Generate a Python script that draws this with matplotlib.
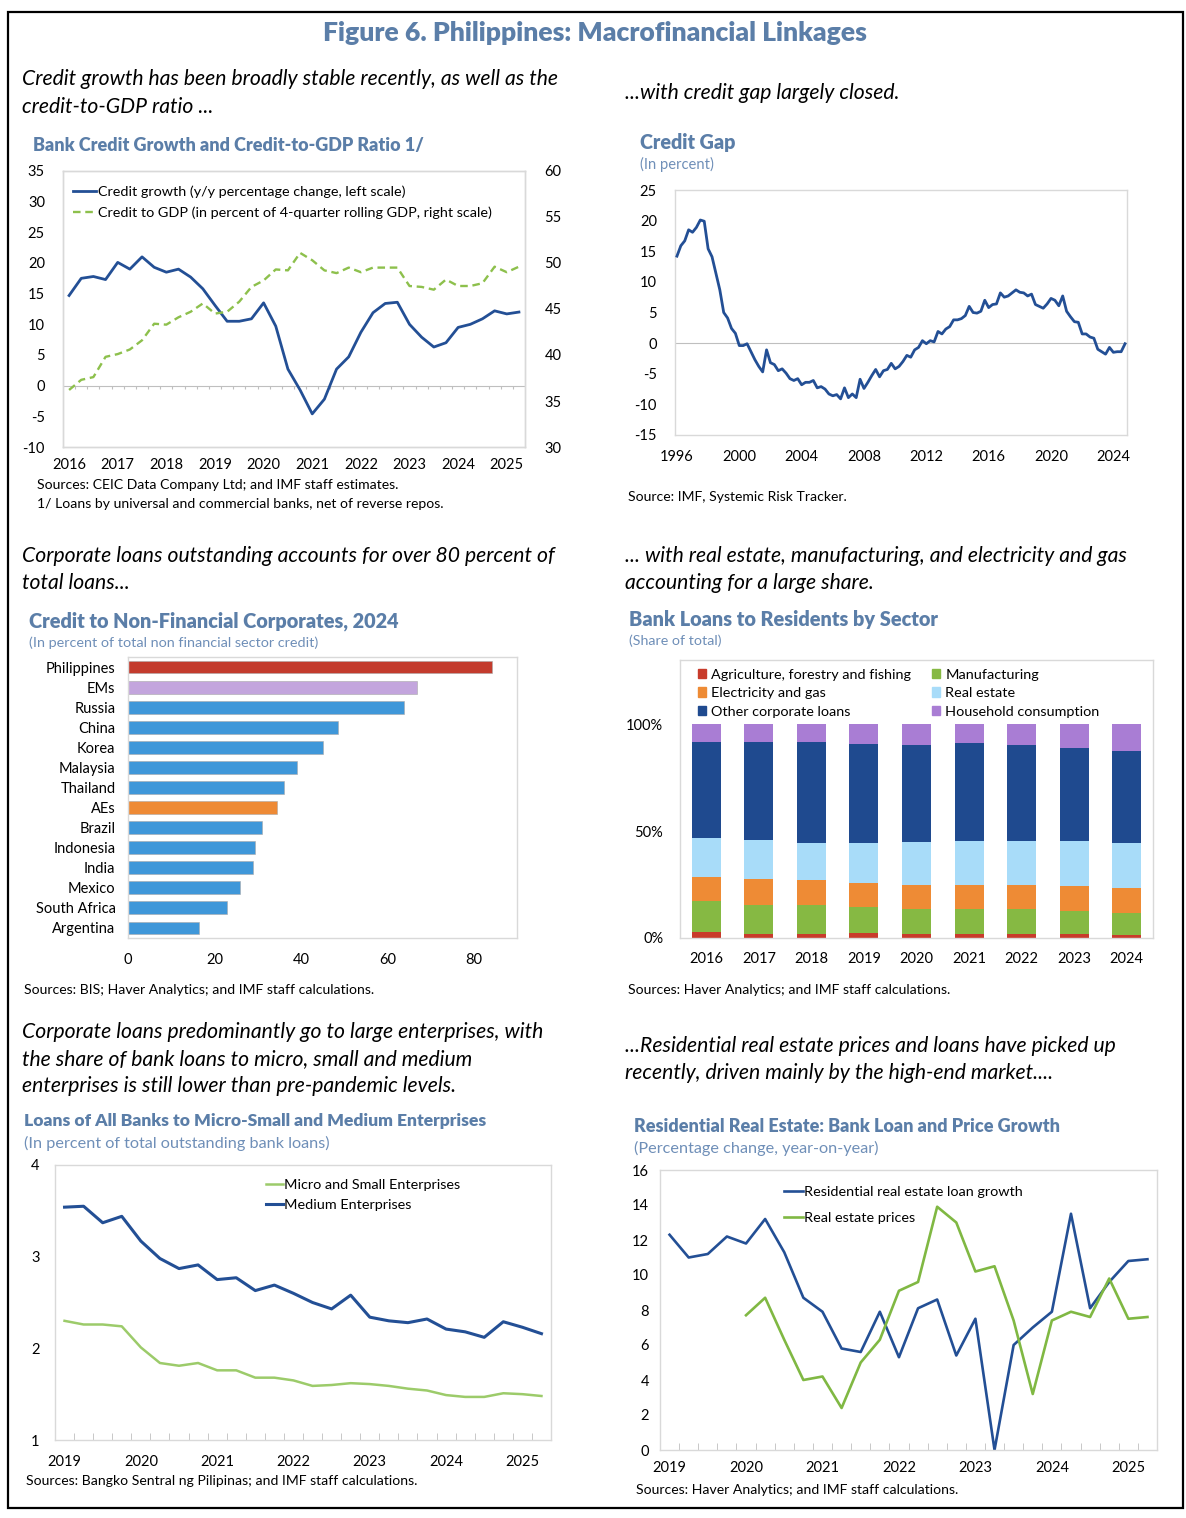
import numpy as np
import matplotlib
matplotlib.use('Agg')
import matplotlib.pyplot as plt
from matplotlib.patches import Rectangle, Patch

W, H = 1186, 1518
plt.rcParams['font.family'] = ['Lato', 'DejaVu Sans']
plt.rcParams['axes.unicode_minus'] = False

# ---------------- DATA ----------------
# Panel 1: quarterly 2016Q1 - 2025Q2
credit_growth = [14.7, 17.5, 17.8, 17.3, 20.1, 19.0, 21.0, 19.3, 18.5, 19.0,
                 17.7, 15.8, 13.1, 10.5, 10.5, 10.9, 13.5, 9.7, 2.7, -0.7,
                 -4.6, -2.2, 2.7, 4.7, 8.7, 11.9, 13.4, 13.6, 10.0, 7.9,
                 6.3, 7.0, 9.5, 10.0, 10.9, 12.2, 11.7, 12.0]
credit_to_gdp = [36.2, 37.3, 37.6, 39.8, 40.1, 40.6, 41.6, 43.4, 43.3, 44.1,
                 44.7, 45.6, 44.5, 44.7, 45.8, 47.4, 48.1, 49.3, 49.2, 51.1,
                 50.3, 49.2, 48.9, 49.5, 49.0, 49.5, 49.5, 49.5, 47.5, 47.4,
                 47.1, 48.2, 47.5, 47.5, 47.8, 49.6, 49.0, 49.6]
p1_year_labels = ['2016', '2017', '2018', '2019', '2020', '2021', '2022',
                  '2023', '2024', '2025']

# Panel 2: credit gap, quarterly 1996Q1 - 2024Q4
credit_gap = [14.2, 15.9, 16.7, 18.5, 18.1, 18.9, 20.1, 19.9,
              15.4, 14.1, 11.4, 8.7, 5.0, 4.1, 2.4, 1.6,
              -0.4, -0.4, -0.1, -1.4, -2.7, -3.8, -4.7, -1.1,
              -3.2, -3.5, -4.5, -4.2, -4.9, -5.8, -6.1, -5.8,
              -6.8, -6.4, -6.4, -6.1, -7.3, -7.1, -7.5, -8.3,
              -8.6, -8.4, -9.1, -7.3, -8.9, -8.3, -8.9, -5.9,
              -7.4, -6.4, -5.3, -4.3, -5.5, -4.5, -4.3, -3.3,
              -4.2, -3.8, -3.0, -2.0, -2.3, -1.1, -0.7, 0.4,
              -0.1, 0.4, 0.2, 1.9, 1.5, 2.3, 2.7, 3.8,
              3.8, 4.0, 4.5, 6.0, 5.0, 4.9, 5.2, 7.0,
              5.8, 6.3, 6.4, 8.2, 7.5, 7.7, 8.2, 8.7,
              8.3, 8.2, 7.7, 8.0, 6.3, 6.0, 5.7, 6.4,
              7.3, 7.0, 6.1, 7.7, 5.2, 4.3, 3.5, 3.4,
              1.5, 1.5, 1.0, 0.8, -1.0, -1.4, -1.8, -0.7,
              -1.5, -1.4, -1.4, -0.1]
gap_year_labels = ['1996', '2000', '2004', '2008', '2012', '2016', '2020', '2024']

# Panel 3: credit to NFCs, 2024
nfc_countries = ['Philippines', 'EMs', 'Russia', 'China', 'Korea', 'Malaysia',
                 'Thailand', 'AEs', 'Brazil', 'Indonesia', 'India', 'Mexico',
                 'South Africa', 'Argentina']
nfc_values = [84.2, 66.9, 63.8, 48.7, 45.0, 39.1, 36.2, 34.4, 30.9, 29.4,
              29.0, 26.0, 22.9, 16.4]

# Panel 4: bank loans by sector (share of total, %)
sector_years = ['2016', '2017', '2018', '2019', '2020', '2021', '2022', '2023', '2024']
agri = [2.8, 2.0, 2.0, 2.4, 2.0, 2.0, 1.7, 1.7, 1.4]
manufacturing = [14.7, 13.4, 13.3, 11.9, 11.4, 11.5, 11.8, 10.9, 10.5]
electricity = [11.1, 12.3, 11.6, 11.2, 11.4, 11.3, 11.3, 11.5, 11.5]
real_estate = [18.1, 18.1, 17.6, 18.7, 20.2, 20.6, 20.6, 21.2, 21.1]
other_corp = [45.1, 46.0, 47.3, 46.5, 45.3, 46.0, 44.9, 43.7, 43.1]
household = [8.2, 8.2, 8.2, 9.3, 9.7, 8.6, 9.7, 11.0, 12.4]
sector_names = ['Agriculture, forestry and fishing', 'Manufacturing',
                'Electricity and gas', 'Real estate', 'Other corporate loans',
                'Household consumption']

# Panel 5: MSME loans, quarterly 2019Q1 - 2025Q2
micro_small = [2.30, 2.26, 2.26, 2.24, 2.01, 1.84, 1.81, 1.84, 1.76, 1.76,
               1.68, 1.68, 1.65, 1.59, 1.60, 1.62, 1.61, 1.59, 1.56, 1.54,
               1.49, 1.47, 1.47, 1.51, 1.50, 1.48]
medium = [3.54, 3.55, 3.37, 3.44, 3.17, 2.98, 2.87, 2.91, 2.75, 2.77,
          2.63, 2.69, 2.60, 2.50, 2.43, 2.58, 2.34, 2.30, 2.28, 2.32,
          2.21, 2.18, 2.12, 2.29, 2.23, 2.16]
q_year_labels = ['2019', '2020', '2021', '2022', '2023', '2024', '2025']

# Panel 6: residential real estate, quarterly 2019Q1 - 2025Q2
re_loan_growth = [12.3, 11.0, 11.2, 12.2, 11.8, 13.2, 11.3, 8.7, 7.9, 5.8,
                  5.6, 7.9, 5.3, 8.1, 8.6, 5.4, 7.5, 0.0, 6.0, 7.0,
                  7.9, 13.5, 8.1, 9.6, 10.8, 10.9]
re_prices = [np.nan, np.nan, np.nan, np.nan, 7.7, 8.7, 6.3, 4.0, 4.2, 2.4,
             5.0, 6.3, 9.1, 9.6, 13.9, 13.0, 10.2, 10.5, 7.4, 3.2,
             7.4, 7.9, 7.6, 9.8, 7.5, 7.6]

# ---------------- STYLE ----------------
TITLE_C = '#5B7EA8'
SUB_C = '#6F8FB8'
SPINE_C = '#D9D9D9'
DARK_BLUE = '#234F95'
TICK_FS = 10.5
fig = plt.figure(figsize=(W / 100, H / 100), dpi=100)


def px_axes(l, t, r, b):
    return fig.add_axes([l / W, 1 - b / H, (r - l) / W, (b - t) / H])


def ftext(x, y, s, **kw):
    kw.setdefault('va', 'center')
    kw.setdefault('ha', 'left')
    fig.text(x / W, 1 - y / H, s, **kw)


def style(ax, ypad=10, xpad=8, size=TICK_FS):
    for sp in ax.spines.values():
        sp.set_color(SPINE_C)
        sp.set_linewidth(1.0)
    ax.tick_params(axis='both', length=0, labelsize=size, colors='black')
    ax.tick_params(axis='y', pad=ypad)
    ax.tick_params(axis='x', pad=xpad)


# outer frame
fig.add_artist(Rectangle((8 / W, 1 - 1508 / H), 1175 / W, 1496 / H,
                         transform=fig.transFigure, fill=False, lw=1.6, ec='black'))
ftext(595, 33, 'Figure 6. Philippines: Macrofinancial Linkages', ha='center',
      fontsize=19.1, fontweight='heavy', color=TITLE_C)

cap_kw = dict(fontsize=15.2, style='italic', color='black')
title_kw = dict(fontweight='heavy', color=TITLE_C)
sub_kw = dict(color=SUB_C)
src_kw = dict(fontsize=10.1, color='black')
LEG_FS = 10.4

# ---------------- PANEL 1 ----------------
ftext(22, 79, 'Credit growth has been broadly stable recently, as well as the', **cap_kw)
ftext(22, 107, 'credit-to-GDP ratio ...', **cap_kw)
ftext(33, 146, 'Bank Credit Growth and Credit-to-GDP Ratio 1/', fontsize=12.95, **title_kw)
ax1 = px_axes(63, 171, 525, 447)
n1 = len(credit_growth)
x1 = np.arange(n1)
ax1.axhline(0, color='#BFBFBF', lw=0.8, zorder=1)
ax1.vlines(np.arange(0.5, n1 - 1), -0.6, 0, colors='#BFBFBF', lw=0.8, zorder=1)
l1, = ax1.plot(x1, credit_growth, color=DARK_BLUE, lw=2.0, zorder=3)
ax1.set_ylim(-10, 35)
ax1.set_yticks(np.arange(-10, 36, 5))
ax1.set_xlim(-0.5, n1 - 0.5)
ax1.set_xticks(np.arange(0, n1, 4))
ax1.set_xticklabels(p1_year_labels)
style(ax1, ypad=13, xpad=8)
ax1b = ax1.twinx()
l2, = ax1b.plot(x1, credit_to_gdp, color='#8DC04C', lw=1.7, ls=(0, (3.2, 2)))
ax1b.set_ylim(30, 60)
ax1b.set_yticks(np.arange(30, 61, 5))
style(ax1b, ypad=14)
ax1.legend([l1, l2], ['Credit growth (y/y percentage change, left scale)',
                      'Credit to GDP (in percent of 4-quarter rolling GDP, right scale)'],
           loc='upper left', bbox_to_anchor=(0.006, 0.975), frameon=False,
           fontsize=LEG_FS, handlelength=1.6, handletextpad=0.1, borderpad=0,
           labelspacing=0.62)
ftext(37, 485, 'Sources: CEIC Data Company Ltd; and IMF staff estimates.', **src_kw)
ftext(37, 504, '1/ Loans by universal and commercial banks, net of reverse repos.', **src_kw)

# ---------------- PANEL 2 ----------------
ftext(625, 93, '...with credit gap largely closed.', **cap_kw)
ftext(640, 143, 'Credit Gap', fontsize=14.2, **title_kw)
ftext(640, 164, '(In percent)', fontsize=10.6, **sub_kw)
ax2 = px_axes(675, 190, 1127, 435)
n2 = len(credit_gap)
ax2.axhline(0, color='#BFBFBF', lw=0.8, zorder=1)
ax2.plot(np.arange(n2), credit_gap, color=DARK_BLUE, lw=2.0, zorder=3)
ax2.set_ylim(-15, 25)
ax2.set_yticks(np.arange(-15, 26, 5))
ax2.set_xlim(-0.5, n2 - 0.5)
ax2.set_xticks(np.arange(0, n2, 16))
ax2.set_xticklabels(gap_year_labels)
style(ax2, ypad=13, xpad=11)
ftext(628, 497, 'Source: IMF, Systemic Risk Tracker.', **src_kw)

# ---------------- PANEL 3 ----------------
ftext(22, 556, 'Corporate loans outstanding accounts for over 80 percent of', **cap_kw)
ftext(22, 583, 'total loans...', **cap_kw)
ftext(29, 621, 'Credit to Non-Financial Corporates, 2024', fontsize=14.3, **title_kw)
ftext(29, 643, '(In percent of total non financial sector credit)', fontsize=10.4, **sub_kw)
ax3 = px_axes(128, 657, 517, 938)
n3 = len(nfc_countries)
bar_colors = []
for c in nfc_countries:
    if c == 'Philippines':
        bar_colors.append('#C33B2D')
    elif c == 'EMs':
        bar_colors.append('#C3A5DD')
    elif c == 'AEs':
        bar_colors.append('#EE8A35')
    else:
        bar_colors.append('#3F97D9')
ax3.barh(np.arange(n3), nfc_values, height=0.64, color=bar_colors,
         edgecolor='#A9A9A9', linewidth=0.4)
ax3.set_ylim(n3 - 0.5, -0.5)
ax3.set_yticks(np.arange(n3))
ax3.set_yticklabels(nfc_countries)
ax3.set_xlim(0, 90)
ax3.set_xticks([0, 20, 40, 60, 80])
style(ax3, ypad=9, xpad=11)
ftext(24, 990, 'Sources: BIS; Haver Analytics; and IMF staff calculations.', **src_kw)

# ---------------- PANEL 4 ----------------
ftext(625, 556, '... with real estate, manufacturing, and electricity and gas', **cap_kw)
ftext(625, 583, 'accounting for a large share.', **cap_kw)
ftext(629, 620, 'Bank Loans to Residents by Sector', fontsize=14.3, **title_kw)
ftext(629, 641, '(Share of total)', fontsize=10.3, **sub_kw)
ax4 = px_axes(680, 660, 1153, 938)
n4 = len(sector_years)
x4 = np.arange(n4)
stack = [agri, manufacturing, electricity, real_estate, other_corp, household]
stack_colors = ['#C83B2B', '#86B943', '#EE8B35', '#A8DCF9', '#1F4A8F', '#A97DD4']
bottom = np.zeros(n4)
handles = []
for vals, col, name in zip(stack, stack_colors, sector_names):
    v = np.array(vals) / 100.0
    ax4.bar(x4, v, bottom=bottom, width=0.55, color=col)
    bottom = bottom + v
    handles.append(Patch(color=col, label=name))
ax4.set_ylim(0, 1.3)
ax4.set_yticks([0, 0.5, 1.0])
ax4.set_yticklabels(['0%', '50%', '100%'])
ax4.set_xlim(-0.5, n4 - 0.5)
ax4.set_xticks(x4)
ax4.set_xticklabels(sector_years)
style(ax4, ypad=12, xpad=10)
order = [0, 2, 4, 1, 3, 5]
ax4.legend([handles[i] for i in order], [sector_names[i] for i in order],
           ncol=2, loc='upper left', bbox_to_anchor=(0.022, 0.995), frameon=False,
           fontsize=LEG_FS, handlelength=0.6, handleheight=0.6, handletextpad=0.35,
           borderpad=0, labelspacing=0.45, columnspacing=1.4)
ftext(628, 990, 'Sources: Haver Analytics; and IMF staff calculations.', **src_kw)

# ---------------- PANEL 5 ----------------
ftext(22, 1032, 'Corporate loans predominantly go to large enterprises, with', **cap_kw)
ftext(22, 1059, 'the share of bank loans to micro, small and medium', **cap_kw)
ftext(22, 1086, 'enterprises is still lower than pre-pandemic levels.', **cap_kw)
ftext(24, 1121, 'Loans of All Banks to Micro-Small and Medium Enterprises', fontsize=12.6, **title_kw)
ftext(24, 1143, '(In percent of total outstanding bank loans)', fontsize=11.7, **sub_kw)
ax5 = px_axes(55, 1165, 551, 1440)
n5 = len(medium)
x5 = np.arange(n5)
ax5.plot(x5, micro_small, color='#9CCB6A', lw=1.8, label='Micro and Small Enterprises')
ax5.plot(x5, medium, color=DARK_BLUE, lw=2.2, label='Medium Enterprises')
ax5.set_ylim(1, 4)
ax5.set_yticks([1, 2, 3, 4])
ax5.set_xlim(-0.5, n5 - 0.5)
ax5.set_xticks(np.arange(0, n5, 4))
ax5.set_xticklabels(q_year_labels)
ax5.set_xticks(np.arange(0.5, n5 - 1, 1), minor=True)
style(ax5, ypad=11, xpad=11)
ax5.tick_params(axis='x', which='minor', direction='in', length=5, color='#BFBFBF')
ax5.legend(loc='upper left', bbox_to_anchor=(0.41, 0.976), frameon=False,
           fontsize=LEG_FS, handlelength=1.2, handletextpad=0.1, borderpad=0,
           labelspacing=0.58)
ftext(26, 1481, 'Sources: Bangko Sentral ng Pilipinas; and IMF staff calculations.', **src_kw)

# ---------------- PANEL 6 ----------------
ftext(625, 1046, '...Residential real estate prices and loans have picked up', **cap_kw)
ftext(625, 1073, 'recently, driven mainly by the high-end market....', **cap_kw)
ftext(634, 1126, 'Residential Real Estate: Bank Loan and Price Growth', fontsize=12.95, **title_kw)
ftext(634, 1148, '(Percentage change, year-on-year)', fontsize=11.7, **sub_kw)
ax6 = px_axes(660, 1170, 1157, 1450)
n6 = len(re_loan_growth)
x6 = np.arange(n6)
ax6.plot(x6, re_loan_growth, color=DARK_BLUE, lw=1.9, label='Residential real estate loan growth')
ax6.plot(x6, re_prices, color='#80B843', lw=1.9, label='Real estate prices')
ax6.set_ylim(0, 16)
ax6.set_yticks(np.arange(0, 17, 2))
ax6.set_xlim(-0.5, n6 - 0.5)
ax6.set_xticks(np.arange(0, n6, 4))
ax6.set_xticklabels(q_year_labels)
ax6.set_xticks(np.arange(0.5, n6 - 1, 1), minor=True)
style(ax6, ypad=8, xpad=8)
ax6.tick_params(axis='x', which='minor', direction='in', length=5, color='#BFBFBF')
ax6.legend(loc='upper left', bbox_to_anchor=(0.235, 0.968), frameon=False,
           fontsize=LEG_FS, handlelength=1.3, handletextpad=0.1, borderpad=0,
           labelspacing=0.95)
ftext(636, 1490, 'Sources: Haver Analytics; and IMF staff calculations.', **src_kw)

fig.savefig('out.png', dpi=100)
